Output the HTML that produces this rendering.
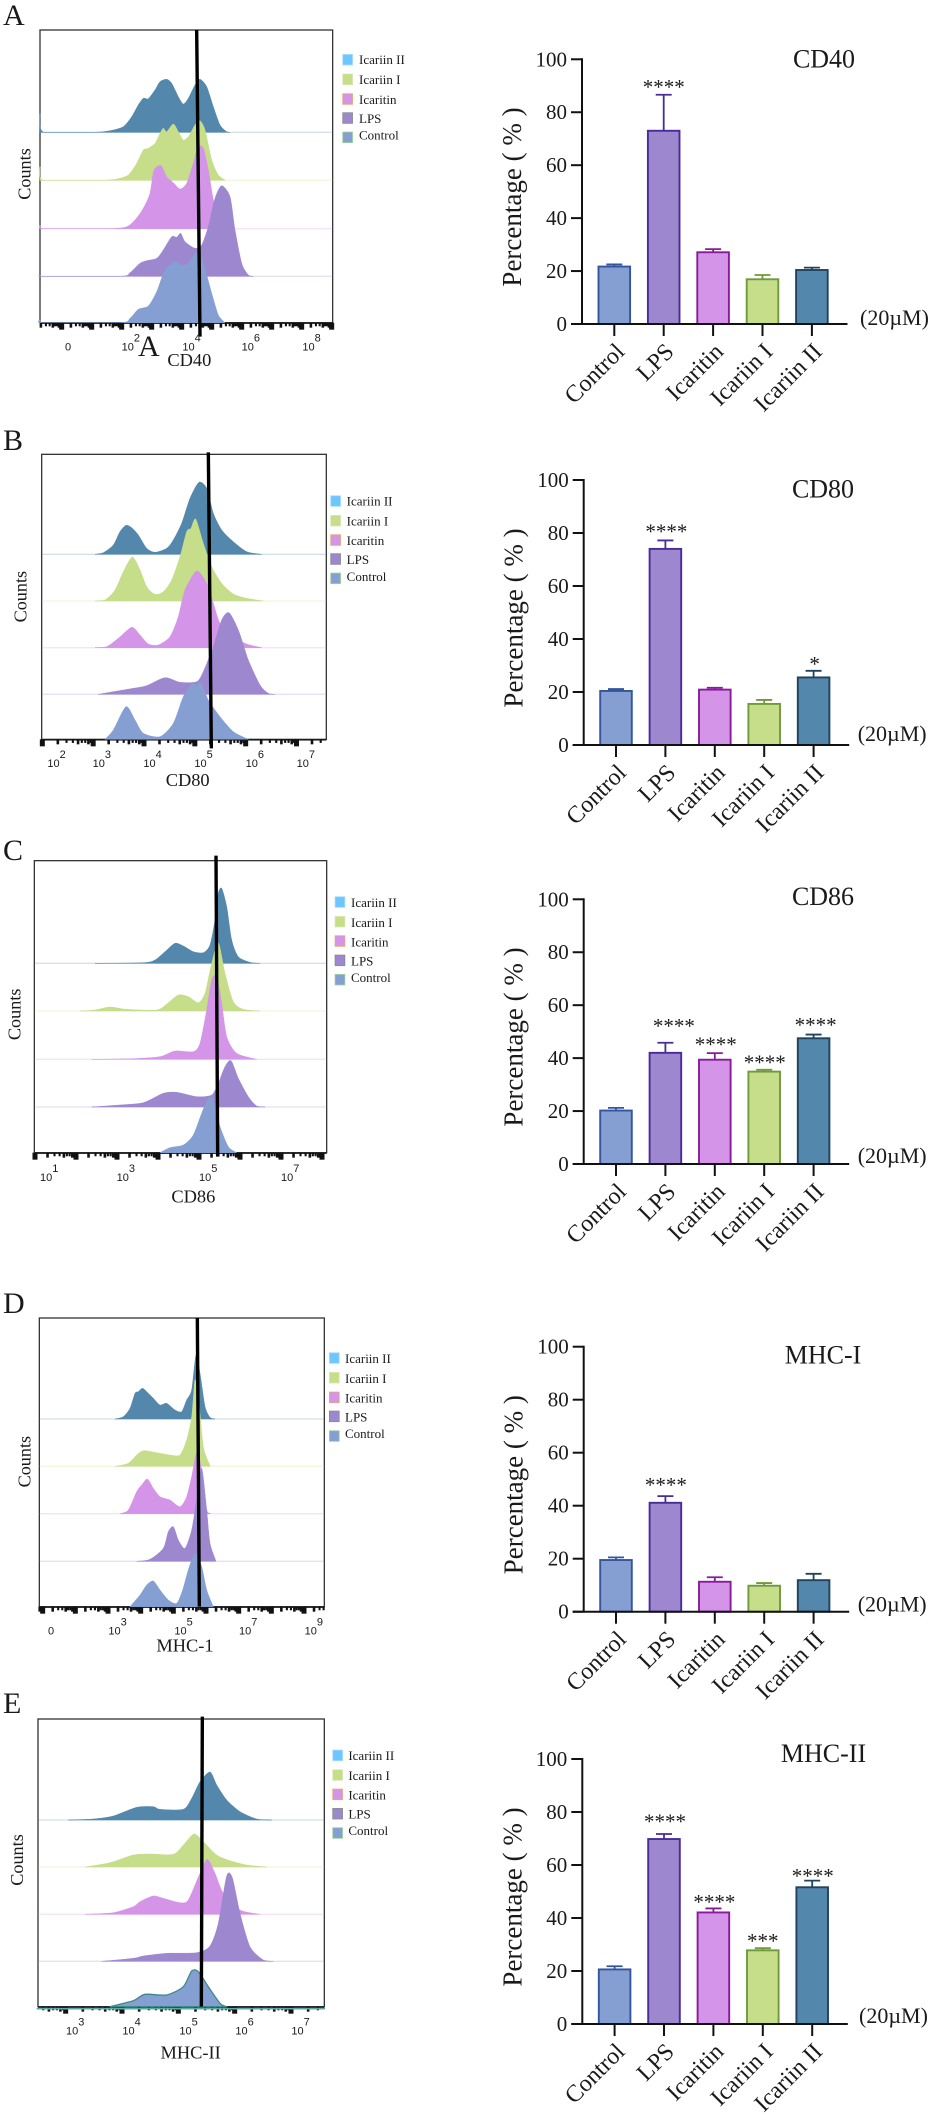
<!DOCTYPE html>
<html lang="en">
<head>
<meta charset="utf-8">
<title>Flow cytometry histograms and percentage bar charts</title>
<style>
html,body{margin:0;padding:0;background:#fff;}
svg{display:block;filter:blur(0.35px);}
text{font-family:"Liberation Serif","Times New Roman",serif;fill:#1a1a1a;}
.sans{font-family:"Liberation Sans",Arial,sans-serif;}
</style>
</head>
<body>
<svg id="figure" xmlns="http://www.w3.org/2000/svg" width="931" height="2113" viewBox="0 0 931 2113"></svg>
<script>
/* ---------- shared categories ---------- */
const categories = ['Control', 'LPS', 'Icaritin', 'Icariin I', 'Icariin II'];
const legendLabels = ['Icariin II', 'Icariin I', 'Icaritin', 'LPS', 'Control'];
const percentTicks = [0, 20, 40, 60, 80, 100];

/* ---------- bar chart values ---------- */
const cd40Values = [21.7, 73, 27.1, 16.9, 20.4];
const cd40ErrorTops = [22.5, 86.6, 28.3, 18.5, 21.3];
const cd40Stars = ['', '****', '', '', ''];
const cd40StarLevels = [0, 90, 0, 0, 0];

const cd80Values = [20.4, 74, 20.9, 15.5, 25.5];
const cd80ErrorTops = [21.1, 77.2, 21.6, 17, 28];
const cd80Stars = ['', '****', '', '', '*'];
const cd80StarLevels = [0, 80.9, 0, 0, 31];

const cd86Values = [20.2, 42, 39.4, 34.9, 47.5];
const cd86ErrorTops = [21.2, 45.8, 41.9, 35.6, 48.9];
const cd86Stars = ['', '****', '****', '****', '****'];
const cd86StarLevels = [0, 52.5, 45.6, 38.8, 52.9];

const mhc1Values = [19.5, 41.1, 11.3, 9.8, 11.9];
const mhc1ErrorTops = [20.5, 43.6, 13, 10.8, 14.3];
const mhc1Stars = ['', '****', '', '', ''];
const mhc1StarLevels = [0, 48.2, 0, 0, 0];

const mhc2Values = [20.6, 69.8, 42.1, 27.8, 51.6];
const mhc2ErrorTops = [21.8, 71.7, 43.6, 28.6, 54.1];
const mhc2Stars = ['', '****', '****', '***', '****'];
const mhc2StarLevels = [0, 76.7, 46.4, 31.7, 56.2];

/* ---------- histogram values: channel number and event counts ---------- */
const cd40IcariinIIChannels = [120,132,280,330,370,395,415,430,445,465,480,500,515,535,550,565,585,600,620,640,660,680,690];
const cd40IcariinIICounts = [57,0,0,5,17,47,82,102,101,127,152,159,147,107,85,102,142,159,137,77,22,2,0];
const cd40IcariinIChannels = [120,132,300,350,385,410,430,445,465,480,490,500,520,535,550,565,585,600,615,635,655,675];
const cd40IcariinICounts = [41,0,0,4,16,51,91,96,111,141,156,146,169,146,121,131,166,179,151,61,16,1];
const cd40IcaritinChannels = [120,132,330,380,405,430,450,462,483,500,520,540,560,580,595,610,625,640,660];
const cd40IcaritinCounts = [11,0,0,6,26,61,106,176,189,156,138,119,136,196,246,241,176,86,0];
const cd40LpsChannels = [120,132,360,390,420,440,470,490,515,530,542,555,585,605,625,645,665,690,705,725,745,760];
const cd40LpsCounts = [4,0,0,11,39,47,54,79,119,117,129,104,84,94,149,234,272,239,139,39,4,0];
const cd40ControlChannels = [120,130,360,390,415,445,470,495,525,545,565,590,610,635,655,675];
const cd40ControlCounts = [8,0,0,13,40,50,93,158,183,173,178,213,178,88,23,0];

const cd80IcariinIIChannels = [285,310,340,360,378,395,415,440,465,500,520,545,570,597,620,640,665,700,740,785];
const cd80IcariinIICounts = [0,5,28,68,87,80,58,18,6,18,43,93,168,216,198,123,73,38,8,0];
const cd80IcariinIChannels = [285,315,345,370,397,420,440,465,490,515,540,560,573,587,610,635,665,700,740,790];
const cd80IcariinICounts = [0,3,33,88,132,93,43,20,28,63,133,208,218,246,173,103,53,21,8,0];
const cd80IcaritinChannels = [285,320,355,395,420,445,475,510,535,555,590,620,640,660,700,740,785];
const cd80IcaritinCounts = [0,3,28,61,38,11,8,33,93,173,230,193,133,73,33,11,0];
const cd80LpsChannels = [295,340,400,440,495,540,590,610,640,665,687,715,745,780,805,825];
const cd80LpsCounts = [0,8,18,26,50,36,38,68,143,223,245,193,103,28,3,0];
const cd80ControlChannels = [315,340,378,405,430,480,520,550,578,590,602,625,660,700,745];
const cd80ControlCounts = [0,28,98,58,18,8,48,128,168,158,173,118,68,23,0];

const cd86IcariinIIChannels = [285,430,465,495,525,550,580,610,630,645,655,665,680,695,715,750,780];
const cd86IcariinIICounts = [0,2,10,35,60,52,35,32,55,130,210,225,170,70,20,3,0];
const cd86IcariinIChannels = [240,285,330,380,470,500,535,565,595,615,635,655,675,700,730,780];
const cd86IcariinICounts = [0,3,12,5,3,21,48,43,25,53,143,205,113,28,5,0];
const cd86IcaritinChannels = [275,400,480,525,580,600,620,635,650,665,680,710,770];
const cd86IcaritinCounts = [0,2,8,25,23,48,148,238,248,168,68,18,0];
const cd86LpsChannels = [275,360,430,490,530,590,635,655,675,693,715,745,770,795];
const cd86LpsCounts = [0,6,13,41,44,31,36,71,121,139,86,31,3,0];
const cd86ControlChannels = [480,510,550,580,605,625,640,660,685,710];
const cd86ControlCounts = [0,15,23,53,118,163,160,78,18,0];

const mhc1IcariinIIChannels = [345,370,390,405,415,428,445,460,480,500,525,545,560,575,588,600,615,630,645];
const mhc1IcariinIICounts = [0,7,32,77,82,92,77,62,42,47,27,22,57,87,192,137,37,5,0];
const mhc1IcariinIChannels = [345,385,410,430,470,510,540,560,575,585,595,610,630];
const mhc1IcariinICounts = [0,9,34,47,41,34,34,79,149,259,209,59,2];
const mhc1IcaritinChannels = [360,385,410,425,442,460,480,510,540,560,575,590,605,620,632];
const mhc1IcaritinCounts = [0,11,66,86,104,76,51,41,21,51,111,181,131,11,0];
const mhc1LpsChannels = [410,450,490,505,520,535,555,575,590,605,620,630,648];
const mhc1LpsCounts = [0,6,39,89,104,64,39,94,184,279,154,54,0];
const mhc1ControlChannels = [390,420,440,460,480,505,530,548,565,585,605,620,640];
const mhc1ControlCounts = [0,35,65,77,50,20,10,50,110,160,120,50,0];

const mhc2IcariinIIChannels = [205,280,340,410,460,480,550,575,600,630,650,680,720,770,815];
const mhc2IcariinIICounts = [0,3,12,38,40,32,32,65,115,144,105,60,25,3,0];
const mhc2IcariinIChannels = [255,330,400,450,520,550,582,610,650,690,740,800];
const mhc2IcariinICounts = [0,13,36,39,38,66,99,76,36,19,6,0];
const mhc2IcaritinChannels = [255,340,400,420,460,490,540,565,600,622,645,670,720,780];
const mhc2IcaritinCounts = [0,5,23,38,55,48,35,43,123,165,123,63,13,0];
const mhc2LpsChannels = [305,400,430,500,590,630,655,680,697,720,750,790,820];
const mhc2LpsCounts = [0,9,16,24,26,46,114,256,251,144,44,4,0];
const mhc2ControlChannels = [330,400,435,500,550,575,595,625,660,680];
const mhc2ControlCounts = [0,18,37,35,60,107,105,60,10,0];

/* ---------- histogram axis tick labels ---------- */
const cd40TickExponents = [null, 2, 4, 6, 8];
const cd40TickChannels = [195, 365, 547, 725, 907];
const cd80TickExponents = [2, 3, 4, 5, 6, 7];
const cd80TickChannels = [142, 278, 430, 583, 737, 890];
const cd86TickExponents = [1, 3, 5, 7];
const cd86TickChannels = [120, 350, 597, 843];
const mhc1TickExponents = [null, 3, 5, 7, 9];
const mhc1TickChannels = [144, 325, 523, 717, 914];
const mhc2TickExponents = [3, 4, 5, 6, 7];
const mhc2TickChannels = [198, 367, 538, 706, 874];

/* ---------- styling and layout (not data) ---------- */
const FILLS = { 'Control': '#859fd2', 'LPS': '#9d87cf', 'Icaritin': '#d494e8', 'Icariin I': '#c6dd8a', 'Icariin II': '#5387ab' };
const STROKES = { 'Control': '#34559c', 'LPS': '#472c9a', 'Icaritin': '#8a1a9c', 'Icariin I': '#6f9a3a', 'Icariin II': '#20435f' };
const SWATCHES = { 'Icariin II': ['#6ec6ff', '#a8dcff'], 'Icariin I': ['#c6dd8a', '#d8e8b0'], 'Icaritin': ['#d494e8', '#e8a878'], 'LPS': ['#9d87cf', '#8a8a8a'], 'Control': ['#859fd2', '#9ed29a'] };
const MINOR_OFFSETS = [0.301, 0.477, 0.602, 0.699, 0.778, 0.845, 0.903, 0.954];

const panels = [
  { key: 'cd40', letter: 'A', letterY: 25, xTitle: 'CD40', title: 'CD40',
    originY: 0, frame: [120, 90, 998, 968], baselines: [397, 541, 686, 829, 968],
    gate: [590, 90, 600, 1010], swatchX: 1027, swatchYs: [162, 221, 280, 337, 395], textX: 1077, textYs: [180, 240, 299, 356, 406],
    rugStart: 185, rugStep: 90, tickLabelY: 1051, xTitleX: 568, xTitleY: 1098, countsX: 92, countsY: 522,
    series: [[cd40IcariinIIChannels, cd40IcariinIICounts], [cd40IcariinIChannels, cd40IcariinICounts], [cd40IcaritinChannels, cd40IcaritinCounts], [cd40LpsChannels, cd40LpsCounts], [cd40ControlChannels, cd40ControlCounts]],
    tickExp: cd40TickExponents, tickCh: cd40TickChannels,
    values: cd40Values, errors: cd40ErrorTops, stars: cd40Stars, starLevels: cd40StarLevels, starShift: [0, 0, 0, 0, 0],
    axisX: 582, y100: 59.3, y0: 324, titleX: 824, titleY: 67.7, doseX: 860, doseY: 325 },
  { key: 'cd80', letter: 'B', letterY: 450, xTitle: 'CD80', title: 'CD80',
    originY: 420, frame: [125, 103, 979, 958], baselines: [403, 543, 683, 823, 958],
    gate: [625, 97, 634, 985], swatchX: 991, swatchYs: [226, 285, 343, 400, 458], textX: 1040, textYs: [244, 304, 363, 420, 470],
    rugStart: 127, rugStep: 152.5, tickLabelY: 1041, xTitleX: 563, xTitleY: 1098, countsX: 80, countsY: 530,
    series: [[cd80IcariinIIChannels, cd80IcariinIICounts], [cd80IcariinIChannels, cd80IcariinICounts], [cd80IcaritinChannels, cd80IcaritinCounts], [cd80LpsChannels, cd80LpsCounts], [cd80ControlChannels, cd80ControlCounts]],
    tickExp: cd80TickExponents, tickCh: cd80TickChannels,
    values: cd80Values, errors: cd80ErrorTops, stars: cd80Stars, starLevels: cd80StarLevels, starShift: [0, 1, 0, 0, 1],
    axisX: 583.7, y100: 480, y0: 745, titleX: 823, titleY: 497.3, doseX: 857.7, doseY: 741 },
  { key: 'cd86', letter: 'C', letterY: 860, xTitle: 'CD86', title: 'CD86',
    originY: 830, frame: [103, 92, 980, 968], baselines: [400, 543, 688, 831, 968],
    gate: [648, 77, 653, 980], swatchX: 1004, swatchYs: [199, 258, 316, 374, 432], textX: 1053, textYs: [218, 278, 337, 394, 444],
    rugStart: 105, rugStep: 123, tickLabelY: 1053, xTitleX: 580, xTitleY: 1118, countsX: 62, countsY: 553,
    series: [[cd86IcariinIIChannels, cd86IcariinIICounts], [cd86IcariinIChannels, cd86IcariinICounts], [cd86IcaritinChannels, cd86IcaritinCounts], [cd86LpsChannels, cd86LpsCounts], [cd86ControlChannels, cd86ControlCounts]],
    tickExp: cd86TickExponents, tickCh: cd86TickChannels,
    values: cd86Values, errors: cd86ErrorTops, stars: cd86Stars, starLevels: cd86StarLevels, starShift: [0, 8.5, 1, 0.5, 2],
    axisX: 583.7, y100: 899.3, y0: 1164, titleX: 823, titleY: 905, doseX: 857.7, doseY: 1163 },
  { key: 'mhc1', letter: 'D', letterY: 1313, xTitle: 'MHC-1', title: 'MHC-I',
    originY: 1300, frame: [118, 54, 973, 920], baselines: [357, 499, 641, 784, 920],
    gate: [592, 54, 598, 920], swatchX: 987, swatchYs: [157, 216, 275, 332, 391], textX: 1035, textYs: [176, 236, 295, 352, 402],
    rugStart: 128, rugStep: 98, tickLabelY: 1003, xTitleX: 555, xTitleY: 1055, countsX: 92, countsY: 485,
    series: [[mhc1IcariinIIChannels, mhc1IcariinIICounts], [mhc1IcariinIChannels, mhc1IcariinICounts], [mhc1IcaritinChannels, mhc1IcaritinCounts], [mhc1LpsChannels, mhc1LpsCounts], [mhc1ControlChannels, mhc1ControlCounts]],
    tickExp: mhc1TickExponents, tickCh: mhc1TickChannels,
    values: mhc1Values, errors: mhc1ErrorTops, stars: mhc1Stars, starLevels: mhc1StarLevels, starShift: [0, 0.5, 0, 0, 0],
    axisX: 583.7, y100: 1346.7, y0: 1611.7, titleX: 823, titleY: 1363.3, doseX: 857.7, doseY: 1611.7 },
  { key: 'mhc2', letter: 'E', letterY: 1713, xTitle: 'MHC-II', title: 'MHC-II',
    originY: 1710, frame: [114, 27, 973, 890], baselines: [330, 471, 613, 754, 890],
    gate: [607, 20, 604, 890], swatchX: 997, swatchYs: [119, 178, 236, 294, 352], textX: 1045, textYs: [137, 197, 256, 313, 363],
    rugStart: 197, rugStep: 169, tickLabelY: 973, xTitleX: 572, xTitleY: 1045, countsX: 69, countsY: 450,
    controlStroke: '#3d8a88',
    series: [[mhc2IcariinIIChannels, mhc2IcariinIICounts], [mhc2IcariinIChannels, mhc2IcariinICounts], [mhc2IcaritinChannels, mhc2IcaritinCounts], [mhc2LpsChannels, mhc2LpsCounts], [mhc2ControlChannels, mhc2ControlCounts]],
    tickExp: mhc2TickExponents, tickCh: mhc2TickChannels,
    values: mhc2Values, errors: mhc2ErrorTops, stars: mhc2Stars, starLevels: mhc2StarLevels, starShift: [0, 1, 1, 0, 0.5],
    axisX: 582.3, y100: 1759, y0: 2024, titleX: 823.5, titleY: 1762, doseX: 859, doseY: 2023 }
];

const NS = 'http://www.w3.org/2000/svg';
const root = document.getElementById('figure');

function make(tag, attrs, parent, content) {
  const node = document.createElementNS(NS, tag);
  Object.keys(attrs).forEach(function (k) { node.setAttribute(k, attrs[k]); });
  if (content !== undefined) node.textContent = content;
  parent.appendChild(node);
  return node;
}

/* smooth outline through the points, never dipping below the baseline */
function smoothPath(xs, ys, baseY) {
  let d = 'M' + xs[0].toFixed(1) + ' ' + baseY.toFixed(1) + 'L' + xs[0].toFixed(1) + ' ' + ys[0].toFixed(1);
  for (let i = 0; i < xs.length - 1; i++) {
    const i0 = Math.max(0, i - 1);
    const i3 = Math.min(xs.length - 1, i + 2);
    const c1x = xs[i] + (xs[i + 1] - xs[i0]) / 8;
    const c1y = Math.min(baseY, ys[i] + (ys[i + 1] - ys[i0]) / 8);
    const c2x = xs[i + 1] - (xs[i3] - xs[i]) / 8;
    const c2y = Math.min(baseY, ys[i + 1] - (ys[i3] - ys[i]) / 8);
    d += 'C' + c1x.toFixed(1) + ' ' + c1y.toFixed(1) + ' ' + c2x.toFixed(1) + ' ' + c2y.toFixed(1) + ' ' + xs[i + 1].toFixed(1) + ' ' + ys[i + 1].toFixed(1);
  }
  return d + 'L' + xs[xs.length - 1].toFixed(1) + ' ' + baseY.toFixed(1) + 'Z';
}

/* ---------- histogram panel ---------- */
function drawHistogram(p) {
  const xCh = function (ch) { return ch / 3; };
  const yCh = function (ch) { return p.originY + ch / 3; };
  const yCount = function (base, count) { return yCh(base) - count / 3; };

  const g = make('g', {}, root);
  
  

  const letter = make('text', { x: 3, y: p.letterY, 'font-size': 30 }, g, p.letter);
  
  

  const frame = make('rect', { x: xCh(p.frame[0]), y: yCh(p.frame[1]), width: xCh(p.frame[2] - p.frame[0]), height: (p.frame[3] - p.frame[1]) / 3, fill: '#fff', stroke: '#333', 'stroke-width': 1.3 }, g);
  
  

  /* rug of axis ticks */
  const rug = make('g', { fill: '#111' }, g);
  
  
  const rugTop = yCh(p.frame[3]);
  make('rect', { x: xCh(p.frame[0]), y: rugTop, width: xCh(p.frame[2] - p.frame[0]), height: 1.2 }, rug);
  for (let k = -1; p.rugStart + k * p.rugStep < p.frame[2]; k++) {
    const major = p.rugStart + k * p.rugStep;
    if (major >= p.frame[0] - 3) {
      make('rect', { x: xCh(major) - 2.5, y: rugTop, width: 5, height: 7 }, rug);
    }
    MINOR_OFFSETS.forEach(function (o, i) {
      const ch = major + o * p.rugStep;
      if (ch < p.frame[0] || ch > p.frame[2]) return;
      const wide = i % 3 === 0;
      make('rect', { x: xCh(ch) - 1.1, y: rugTop, width: wide ? 2.6 : 2.1, height: wide ? 5 : 3.6 }, rug);
    });
  }

  /* stacked histograms, top row first */
  legendLabels.forEach(function (name, i) {
    const channels = p.series[i][0];
    const counts = p.series[i][1];
    const base = p.baselines[i];
    const isControl = name === 'Control';
    const row = make('g', {}, g);
    
    
    if (!isControl) {
      make('line', { x1: xCh(p.frame[0]), x2: xCh(p.frame[2]), y1: yCh(base), y2: yCh(base), stroke: FILLS[name], 'stroke-opacity': 0.25, 'stroke-width': 1.3 }, row);
    }
    const xs = channels.map(xCh);
    const ys = counts.map(function (c) { return yCount(base, c); });
    const attrs = { d: smoothPath(xs, ys, yCh(base)), fill: FILLS[name], stroke: FILLS[name], 'stroke-width': 0.5, 'stroke-linejoin': 'round' };
    if (isControl && p.controlStroke) { attrs.stroke = p.controlStroke; attrs['stroke-width'] = 1.3; }
    make('path', attrs, row);
    if (isControl && p.controlStroke) {
      make('line', { x1: xCh(p.frame[0] - 4), x2: xCh(p.frame[2] + 2), y1: yCh(base) + 2, y2: yCh(base) + 2, stroke: '#5fa8a6', 'stroke-width': 1.6 }, row);
    }
  });

  /* gate line */
  const gate = make('line', { x1: xCh(p.gate[0]), y1: yCh(p.gate[1]), x2: xCh(p.gate[2]), y2: yCh(p.gate[3]), stroke: '#000', 'stroke-width': 3.4 }, g);
  
  

  /* tick labels */
  p.tickExp.forEach(function (exp, i) {
    const t = make('text', { x: xCh(p.tickCh[i]), y: yCh(p.tickLabelY), 'font-size': 11, class: 'sans' }, g);
    
    
    if (exp === null) {
      t.textContent = '0';
    } else {
      make('tspan', {}, t, '10');
      make('tspan', { dy: -9 }, t, String(exp));
    }
  });

  const xt = make('text', { x: xCh(p.xTitleX), y: yCh(p.xTitleY), 'font-size': 18.4, 'text-anchor': 'middle' }, g, p.xTitle);
  
  

  const cx = xCh(p.countsX);
  const cy = yCh(p.countsY);
  const yt = make('text', { transform: 'translate(' + cx + ' ' + cy + ') rotate(-90)', 'font-size': 18.2, 'text-anchor': 'middle' }, g, 'Counts');
  
  

  /* legend */
  const legend = make('g', {}, g);
  
  
  legendLabels.forEach(function (name, i) {
    const entry = make('g', {}, legend);
    
    
    make('rect', { x: xCh(p.swatchX) + 0.4, y: yCh(p.swatchYs[i]) + 0.4, width: 9.8, height: 10.6, fill: SWATCHES[name][0], stroke: SWATCHES[name][1], 'stroke-width': 0.8 }, entry);
    make('text', { x: xCh(p.textX), y: yCh(p.textYs[i]) + 4.2, 'font-size': 13 }, entry, name);
  });
}

/* ---------- bar panel ---------- */
function drawBars(p) {
  const y = function (v) { return p.y0 - v * (p.y0 - p.y100) / 100; };
  const x = function (i) { return p.axisX + 32.3 + i * 49.4; };

  const g = make('g', {}, root);
  
  

  categories.forEach(function (cat, i) {
    const bar = make('rect', { x: x(i) - 15.8, y: y(p.values[i]), width: 31.6, height: p.y0 - y(p.values[i]), fill: FILLS[cat], stroke: STROKES[cat], 'stroke-width': 1.9 }, g);
    
    

    const err = make('path', { d: 'M' + x(i) + ' ' + y(p.values[i]) + 'V' + y(p.errors[i]) + 'M' + (x(i) - 8) + ' ' + y(p.errors[i]) + 'H' + (x(i) + 8), fill: 'none', stroke: STROKES[cat], 'stroke-width': 1.8 }, g);
    
    

    if (p.stars[i]) {
      const star = make('text', { x: x(i) + p.starShift[i], y: y(p.starLevels[i]) + 8, 'font-size': 21, 'text-anchor': 'middle' }, g, p.stars[i]);
      
      
    }

    make('line', { x1: x(i), x2: x(i), y1: p.y0, y2: p.y0 + 12, stroke: '#111', 'stroke-width': 2 }, g);

    const label = make('text', { transform: 'translate(' + (x(i) + 11.5) + ' ' + (p.y0 + 29) + ') rotate(-45)', 'font-size': 24, 'text-anchor': 'end' }, g, cat);
    
    
  });

  const axes = make('path', { d: 'M' + p.axisX + ' ' + (y(100) - 1) + 'V' + (p.y0 + 1) + 'M' + (p.axisX - 11) + ' ' + p.y0 + 'H' + (p.axisX + 265.5), fill: 'none', stroke: '#111', 'stroke-width': 2 }, g);
  
  

  percentTicks.forEach(function (tick) {
    make('line', { x1: p.axisX - 11, x2: p.axisX, y1: y(tick), y2: y(tick), stroke: '#111', 'stroke-width': 2 }, g);
    const label = make('text', { x: p.axisX - 15, y: y(tick) + 7, 'font-size': 21, 'text-anchor': 'end' }, g, String(tick));
    
    
  });

  const yTitle = make('text', { transform: 'translate(' + (p.axisX - 61) + ' ' + (p.y0 - 127) + ') rotate(-90)', 'font-size': 27, 'text-anchor': 'middle' }, g, 'Percentage ( % )');
  
  

  const title = make('text', { x: p.titleX, y: p.titleY, 'font-size': 26, 'text-anchor': 'middle' }, g, p.title);
  
  

  const dose = make('text', { x: p.doseX, y: p.doseY, 'font-size': 22 }, g, '(20µM)');
  
  
}

panels.forEach(function (p) {
  drawHistogram(p);
  drawBars(p);
});

const strayLetter = make('text', { x: 138, y: 356, 'font-size': 30 }, root, 'A');


</script>
</body>
</html>
